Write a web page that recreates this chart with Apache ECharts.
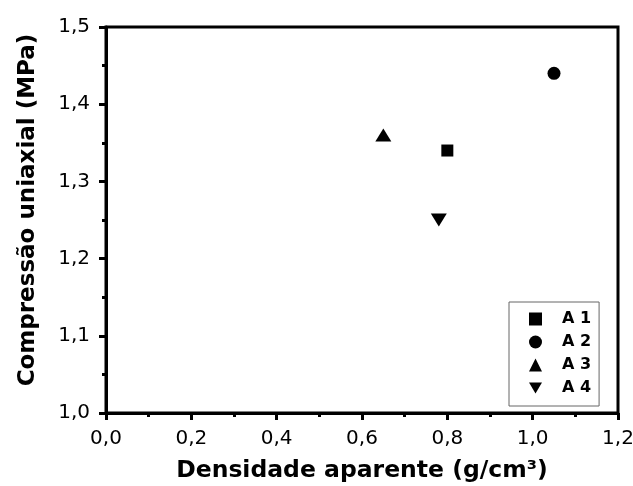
<!DOCTYPE html>
<html>
<head>
<meta charset="utf-8">
<script src="https://cdn.jsdelivr.net/npm/echarts@6/dist/echarts.min.js"></script>
<style>
  html, body { margin: 0; padding: 0; background: #fff; }
  #chart { width: 633px; height: 486px; }
</style>
</head>
<body>
<div id="chart"></div>
<script>
// Samples: apparent density (g/cm³) vs uniaxial compression strength (MPa)
const sampleNames = ['A 1', 'A 2', 'A 3', 'A 4'];
const density = [0.80, 1.05, 0.65, 0.78];
const compression = [1.34, 1.44, 1.36, 1.25];
const markerShapes = ['rect', 'circle', 'triangle', 'path://M0,0 L10,0 L5,8.5 Z'];
const markerSizes = [12, 13, [16, 13], [16, 13]];

const FONT = 'DejaVu Sans, sans-serif';
const chart = echarts.init(document.getElementById('chart'));

const series = sampleNames.map((name, i) => ({
  name: name,
  type: 'scatter',
  symbol: markerShapes[i],
  symbolSize: markerSizes[i],
  itemStyle: { color: '#000', opacity: 1 },
  data: [[density[i], compression[i]]]
}));

const commaFormat = v => v.toFixed(1).replace('.', ',');

const axisCommon = {
  axisLine: { show: true, onZero: false, lineStyle: { color: '#000', width: 3 } },
  axisTick: { show: true, inside: false, length: 7, lineStyle: { color: '#000', width: 3 } },
  minorTick: { show: true, splitNumber: 2, length: 4, lineStyle: { color: '#000', width: 3 } },
  splitLine: { show: false },
  nameLocation: 'middle'
};

chart.setOption({
  animation: false,
  backgroundColor: '#fff',
  grid: {
    left: 106, top: 27, right: 15, bottom: 73,
    outerBoundsMode: 'none',
    containLabel: false,
    show: true, borderColor: '#000', borderWidth: 3
  },
  xAxis: Object.assign({}, axisCommon, {
    type: 'value', min: 0, max: 1.2, interval: 0.2,
    name: 'Densidade aparente (g/cm³)', nameGap: 46,
    nameTextStyle: { color: '#000', fontFamily: FONT, fontSize: 23.5, fontWeight: 'bold' },
    axisLabel: { color: '#000', fontFamily: FONT, fontSize: 20, margin: 16, formatter: commaFormat }
  }),
  yAxis: Object.assign({}, axisCommon, {
    type: 'value', min: 1.0, max: 1.5, interval: 0.1,
    name: 'Compressão uniaxial (MPa)', nameGap: 66,
    nameTextStyle: { color: '#000', fontFamily: FONT, fontSize: 23, fontWeight: 'bold', padding: [0, 0, 0, 20] },
    axisLabel: { color: '#000', fontFamily: FONT, fontSize: 20, margin: 16, formatter: commaFormat }
  }),
  legend: {
    orient: 'vertical',
    left: 509, top: 302,
    padding: [9, 8, 10, 20],
    itemWidth: 13, itemHeight: 13, itemGap: 7,
    borderColor: '#666', borderWidth: 1,
    formatter: '{t|{name}}',
    itemStyle: { opacity: 1 },
    textStyle: {
      color: '#000', fontFamily: FONT, fontSize: 16, fontWeight: 'bold',
      rich: { t: { padding: [0, 0, 0, 15], fontFamily: FONT, fontSize: 16, fontWeight: 'bold', color: '#000' } }
    },
    data: sampleNames
  },
  series: series
});
</script>
</body>
</html>
